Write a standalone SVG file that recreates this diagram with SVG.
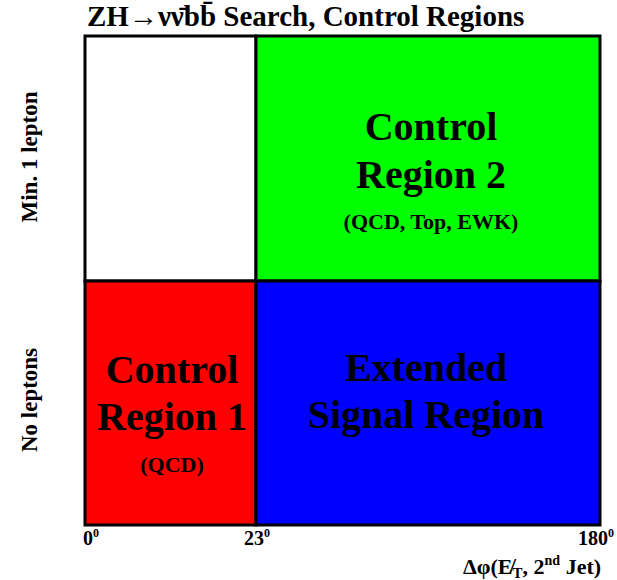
<svg xmlns="http://www.w3.org/2000/svg" width="617" height="580" viewBox="0 0 617 580">
<style>
text{font-family:"Liberation Serif","Times New Roman",serif;font-weight:bold;fill:#000}
.big{font-size:40px;text-anchor:middle}
.sub{font-size:22px;text-anchor:middle}
.side{font-size:23px;text-anchor:middle}
.tick{font-size:20px}
.cell{stroke:#000;stroke-width:3}
</style>
<rect width="617" height="580" fill="#fff"/>
<text x="87" y="26" style="font-size:29px">ZH→νν̄bb̄ Search, Control Regions</text>
<g id="cell-empty"><rect class="cell" x="85" y="36" width="171" height="245" fill="#fff"/></g>
<g id="cr2"><rect class="cell" x="256" y="36" width="344" height="245" fill="#00ff00"/>
<text class="big" x="431" y="140">Control</text>
<text class="big" x="431" y="188">Region 2</text>
<text class="sub" x="431" y="229">(QCD, Top, EWK)</text></g>
<g id="cr1"><rect class="cell" x="85" y="281" width="171" height="244" fill="#ff0000"/>
<text class="big" x="172" y="383">Control</text>
<text class="big" x="172" y="430">Region 1</text>
<text class="sub" x="172" y="472">(QCD)</text></g>
<g id="sr"><rect class="cell" x="256" y="281" width="344" height="244" fill="#0000ff"/>
<text class="big" x="426" y="381" fill="#000020">Extended</text>
<text class="big" x="426" y="428" fill="#000020">Signal Region</text></g>
<g id="connectors"></g>
<g id="axes">
<text class="side" transform="translate(37,157) rotate(-90)">Min. 1 lepton</text>
<text class="side" transform="translate(37,400) rotate(-90)">No leptons</text>
<text class="tick" x="83" y="545">0<tspan dy="-8" style="font-size:12px">0</tspan></text>
<text class="tick" x="244" y="545">23<tspan dy="-8" style="font-size:12px">0</tspan></text>
<text class="tick" x="578" y="545">180<tspan dy="-8" style="font-size:12px">0</tspan></text>
<text x="463" y="574" style="font-size:22px">Δφ(E̸<tspan dy="4" style="font-size:15px">T</tspan><tspan dy="-4">, 2</tspan><tspan dy="-9" style="font-size:14px">nd</tspan><tspan dy="9"> Jet)</tspan></text>
</g>
</svg>
